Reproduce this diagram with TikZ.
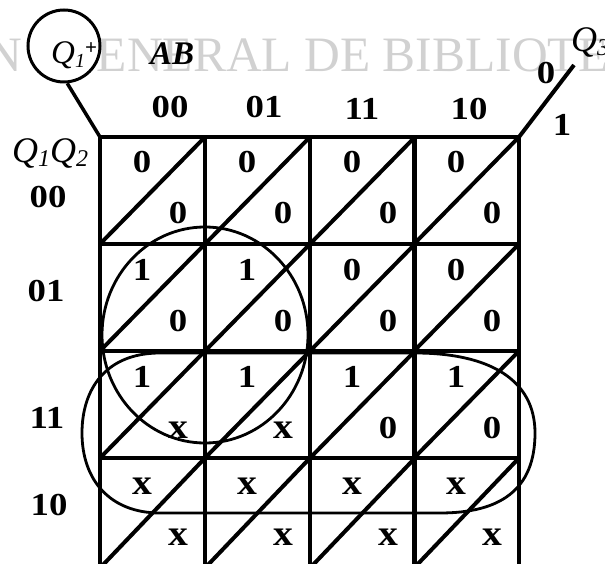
\documentclass[tikz,border=0pt]{standalone}
\usepackage{fontspec}
\setmainfont{Liberation Serif}
\usepackage{graphicx}
\usetikzlibrary{shapes.geometric}
\newcommand{\cellfont}{\fontsize{32}{32}\selectfont\bfseries}
\newcommand{\wdig}[1]{\scalebox{1.15}[1]{#1}}
\newcommand{\cellval}[1]{\if x#1{\fontsize{36}{36}\selectfont\bfseries\scalebox{1.1}[1]{x}}\else\wdig{#1}\fi}
\begin{document}
\begin{tikzpicture}[x=1pt,y=-1pt]
\tikzset{
  cellbox/.style={draw, line width=4.5pt, minimum width=105pt, minimum height=#1, inner sep=0pt, outer sep=0pt},
  diag/.style={line width=4pt},
  val/.style={font=\cellfont, anchor=base, inner sep=0pt},
  loopline/.style={line width=2.8pt},
  wm/.style={font=\fontsize{49.5}{50}\selectfont, text=black!18, inner sep=0pt},
  ital/.style={font=\itshape, inner sep=0pt, anchor=base west},
}
\useasboundingbox (0,0) rectangle (605,564);
% watermark
\node[wm, anchor=base east] (wm1) at (22,72) {N};
\node[wm, anchor=base west] (wm2) at (61,72) {GENERAL DE BIBLIOTE};
% cells
\foreach \r/\y/\h in {0/137/107,1/244/107,2/351/107,3/458/110}{
  \foreach \c/\x in {0/100,1/205,2/310,3/414}{
    \node[cellbox=\h pt] (cell-\r-\c) at (\x+52.5,\y+\h/2) {};
    \draw[diag] (cell-\r-\c.south west) -- (cell-\r-\c.north east);
  }
}
% values
\foreach \r/\y in {0/137,1/244,2/351,3/458}{
  \foreach \c/\x in {0/100,1/205,2/310,3/414}{
    \coordinate (org-\r-\c) at (\x,\y);
  }
}
\foreach \r/\c/\tv/\bv in {0/0/0/0,0/1/0/0,0/2/0/0,0/3/0/0,
                           1/0/1/0,1/1/1/0,1/2/0/0,1/3/0/0,
                           2/0/1/x,2/1/1/x,2/2/1/0,2/3/1/0,
                           3/0/x/x,3/1/x/x,3/2/x/x,3/3/x/x}{
  \node[val] (tv-\r-\c) at ([shift={(42,36)}]org-\r-\c) {\cellval{\tv}};
  \node[val] (bv-\r-\c) at ([shift={(78,87)}]org-\r-\c) {\cellval{\bv}};
}
% groupings
\node[ellipse, draw, line width=2.8pt, minimum width=206pt, minimum height=216pt, inner sep=0pt] (grp1) at (205,335) {};
\draw[loopline] (160,353) -- (415,353)
  .. controls (490,353) and (535,380) .. (535,433)
  .. controls (535,490) and (500,513) .. (440,513)
  -- (160,513)
  .. controls (110,513) and (82,480) .. (82,433)
  .. controls (82,390) and (105,353) .. (160,353) -- cycle;
% column labels
\node[val] (ab00) at (170,118) {\wdig{00}};
\node[val] (ab01) at (264,118) {\wdig{01}};
\node[val] (ab11) at (362,120) {\wdig{11}};
\node[val] (ab10) at (469,120) {\wdig{10}};
% row labels
\node[val] (q00) at (48,208) {\wdig{00}};
\node[val] (q01) at (46,301) {\wdig{01}};
\node[val] (q11) at (47,428) {\wdig{11}};
\node[val] (q10) at (49,515) {\wdig{10}};
% axis labels
\node[ital, font=\fontsize{36}{36}\selectfont\itshape] (q1q2) at (12,163)
  {Q\raisebox{-4pt}{\fontsize{24}{24}\selectfont 1}Q\raisebox{-4pt}{\fontsize{24}{24}\selectfont 2}};
\node[ital, font=\fontsize{33}{33}\selectfont\bfseries\itshape] (ablab) at (150,65) {AB};
% Q1+ circle
\node[circle, draw, line width=3pt, fill=white, minimum size=72pt, inner sep=0pt] (qc) at (64,46) {};
\node[ital, font=\fontsize{33}{33}\selectfont\itshape] (qplus) at (51,64)
  {Q\raisebox{-4pt}{\fontsize{20}{20}\selectfont 1}\raisebox{9pt}{\fontsize{21}{21}\selectfont\bfseries\upshape +}};
\draw[line width=3.5pt] (qc.-85) -- (cell-0-0.north west);
% Q3 line
\coordinate (q3end) at (574,65);
\draw[line width=4pt] (cell-0-3.north east) -- (q3end);
\node[val] (q3zero) at (546,84) {\wdig{0}};
\node[val] (q3one) at (562,136) {\wdig{1}};
\node[ital, font=\fontsize{36}{36}\selectfont\itshape] (q3lab) at (571,52)
  {Q\raisebox{-4pt}{\fontsize{24}{24}\selectfont 3}};
\end{tikzpicture}
\end{document}
